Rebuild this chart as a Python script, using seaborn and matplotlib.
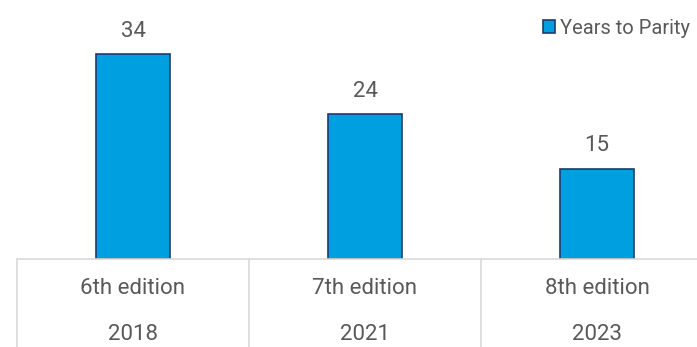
import matplotlib
matplotlib.use("Agg")
import matplotlib.pyplot as plt
import matplotlib.transforms as mtrans
import pandas as pd
import seaborn as sns

editions = ["6th edition", "7th edition", "8th edition"]
years = ["2018", "2021", "2023"]
years_to_parity = [34, 24, 15]

sns.set_style("white")
plt.rcParams["font.family"] = ["Roboto", "DejaVu Sans"]

text_col = "#595959"
line_col = "#D9D9D9"
fs = 16

df = pd.DataFrame({"edition": editions, "value": years_to_parity})

fig = plt.figure(figsize=(6.97, 3.47), dpi=100)
ax = fig.add_axes([17 / 697, 88 / 347, 696 / 697, 259 / 347])

sns.barplot(data=df, x="edition", y="value", ax=ax, width=0.32,
            color="#009FDF", edgecolor="#1F3B6E", linewidth=1.2,
            saturation=1, label="Years to Parity")
ax.bar_label(ax.containers[0], padding=9, fontsize=fs, color=text_col)

handles, labels = ax.get_legend_handles_labels()
if ax.get_legend() is not None:
    ax.get_legend().remove()

ax.set_xlim(-0.5, 2.5)
ax.set_ylim(0, 43)
ax.set_xlabel("")
ax.set_ylabel("")
ax.set_xticks([])
ax.set_yticks([])
for s in ["top", "right", "left"]:
    ax.spines[s].set_visible(False)
ax.spines["bottom"].set_color(line_col)
ax.spines["bottom"].set_linewidth(1.2)

# table under the axis
trans = mtrans.blended_transform_factory(ax.transData, ax.transAxes)
for i in range(len(editions) + 1):
    ax.plot([i - 0.5, i - 0.5], [0, -0.36], transform=trans, color=line_col,
            lw=1.2, clip_on=False)
for i, (ed, yr) in enumerate(zip(editions, years)):
    ax.text(i, -0.112, ed, transform=trans, ha="center", va="center",
            fontsize=fs, color=text_col)
    ax.text(i, -0.29, yr, transform=trans, ha="center", va="center",
            fontsize=fs, color=text_col)

fig.legend(handles, labels, loc="center left",
           bbox_to_anchor=(533 / 697, 1 - 28 / 347),
           frameon=False, borderpad=0, handlelength=0.6, handleheight=0.6,
           handletextpad=0.25, prop={"size": 14.5}, labelcolor=text_col)

fig.savefig("out.png", dpi=100)
